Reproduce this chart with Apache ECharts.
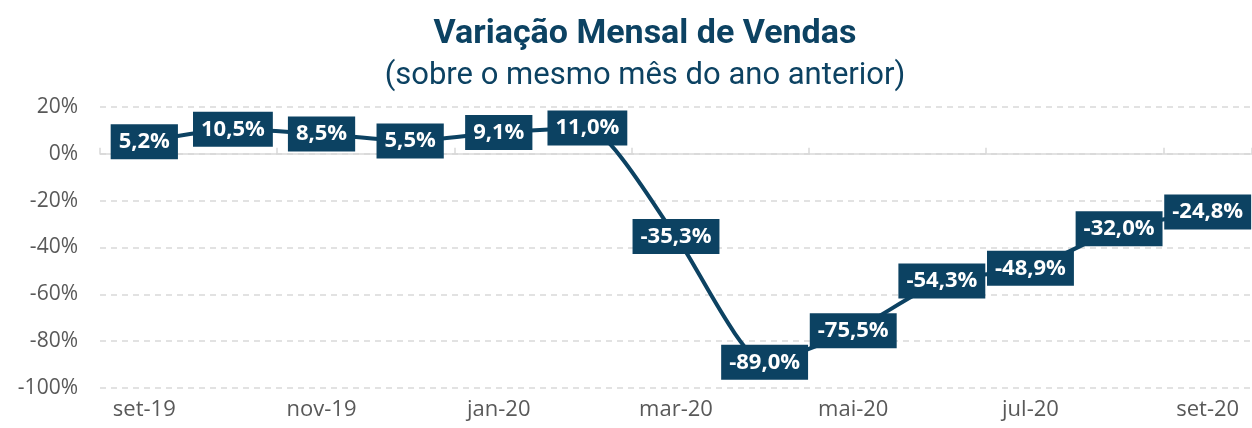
<!DOCTYPE html>
<html>
<head>
<meta charset="utf-8">
<script src="https://cdn.jsdelivr.net/npm/echarts@6/dist/echarts.min.js"></script>
<style>
  html, body { margin: 0; padding: 0; background: #fff; }
  #chart { width: 1252px; height: 428px; }
</style>
</head>
<body>
<div id="chart"></div>
<script>
const months = ['set-19', 'out-19', 'nov-19', 'dez-19', 'jan-20', 'fev-20', 'mar-20',
  'abr-20', 'mai-20', 'jun-20', 'jul-20', 'ago-20', 'set-20']
const variacao = [5.2, 10.5, 8.5, 5.5, 9.1, 11.0, -35.3, -89.0, -75.5, -54.3, -48.9, -32.0, -24.8]
const yTicks = { min: -100, max: 20, interval: 20 }

const navy = '#0c4262'
const titleFont = 'Roboto'
const font = 'Open Sans'

const chart = echarts.init(document.getElementById('chart'))
chart.setOption({
  animation: false,
  title: {
    text: 'Variação Mensal de Vendas',
    subtext: '(sobre o mesmo mês do ano anterior)',
    left: 645,
    textAlign: 'center',
    top: 17,
    padding: 0,
    itemGap: 10,
    textStyle: { color: navy, fontFamily: titleFont, fontWeight: 'bold', fontSize: 34 },
    subtextStyle: { color: navy, fontFamily: titleFont, fontSize: 31 },
  },
  grid: { left: 100, right: 0, top: 107, bottom: 40 },
  xAxis: [
    {
      type: 'category',
      data: months,
      axisLine: { show: false, onZero: false },
      axisTick: { show: false },
      axisLabel: { interval: 1, color: '#595959', fontFamily: font, fontSize: 22, margin: 11 },
    },
    {
      type: 'category',
      data: months,
      position: 'bottom',
      axisLine: { show: true, onZero: true, lineStyle: { color: '#d9d9d9', width: 1.5 } },
      axisTick: { show: true, inside: true, interval: 1, length: 6, lineStyle: { color: '#d9d9d9', width: 1.5 } },
      axisLabel: { show: false },
    },
  ],
  yAxis: {
    type: 'value',
    min: yTicks.min,
    max: yTicks.max,
    interval: yTicks.interval,
    axisLine: { show: false },
    axisTick: { show: false },
    axisLabel: {
      formatter: v => v + '%',
      color: '#595959',
      fontFamily: font,
      fontSize: 21,
      margin: 22,
    },
    splitLine: { lineStyle: { color: '#d9d9d9', type: [6, 5], width: 1.5 } },
  },
  series: [
    {
      type: 'line',
      xAxisIndex: 0,
      data: variacao,
      smooth: 0.2,
      symbol: 'rect',
      symbolSize: 2,
      showSymbol: true,
      itemStyle: { color: navy },
      lineStyle: { color: navy, width: 4 },
      label: {
        show: true,
        position: 'inside',
        formatter: p => p.value.toFixed(1).replace('.', ',') + '%',
        color: '#fff',
        backgroundColor: navy,
        fontFamily: font,
        fontWeight: 'bold',
        fontSize: 22,
        lineHeight: 22,
        padding: [7, 8, 6, 8],
      },
      labelLayout: { hideOverlap: false },
    },
  ],
})
</script>
</body>
</html>
